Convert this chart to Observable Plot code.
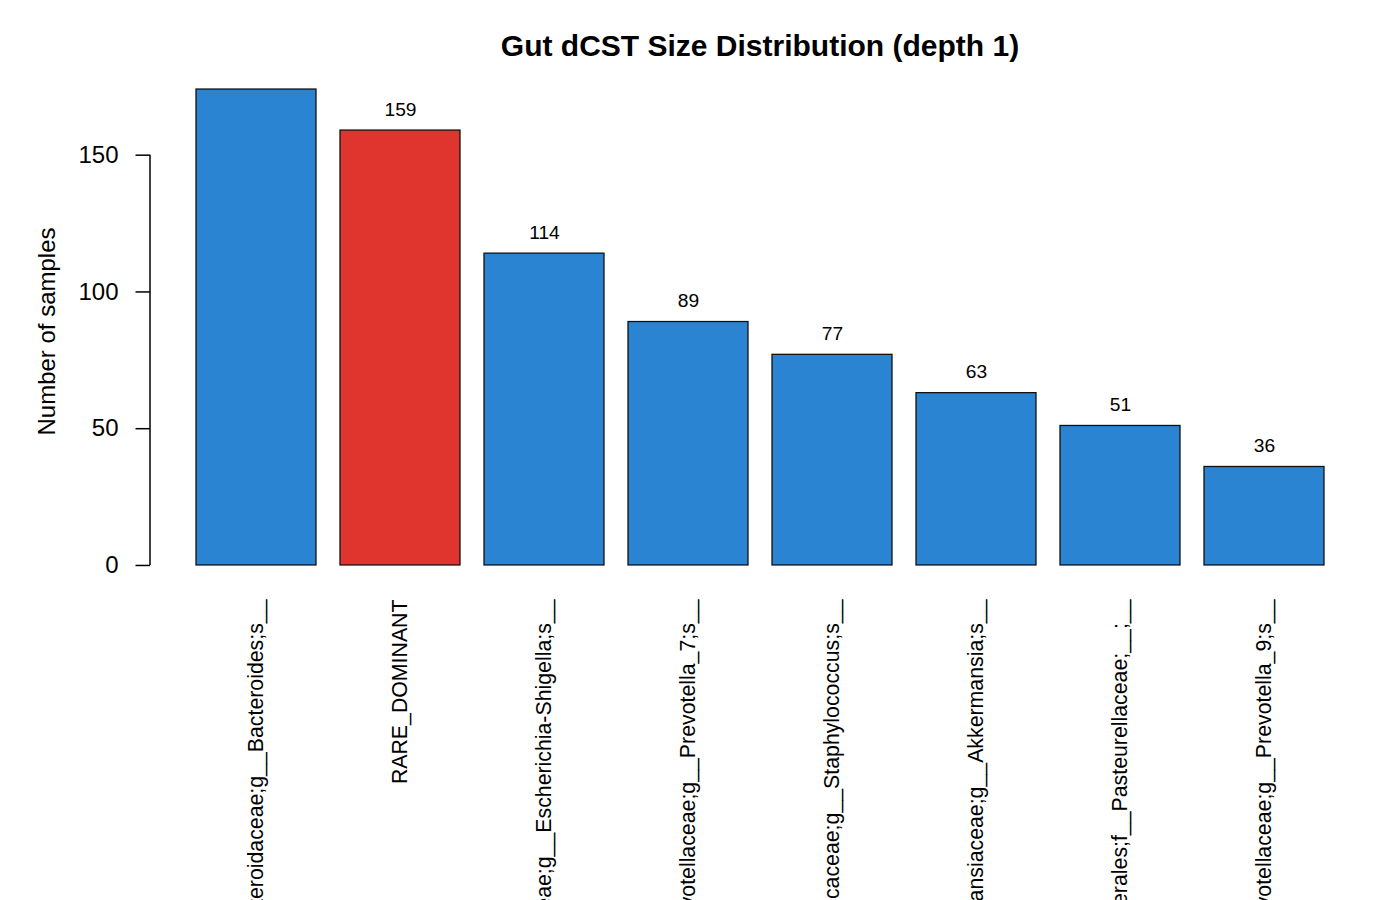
<!DOCTYPE html>
<html>
<head>
<meta charset="utf-8">
<script src="https://cdn.jsdelivr.net/npm/d3@7"></script>
<script src="https://cdn.jsdelivr.net/npm/@observablehq/plot@0.6"></script>
<style>
  html, body { margin: 0; padding: 0; background: white; overflow: hidden; }
  body { width: 1400px; height: 900px; font-family: "Liberation Sans", Arial, Helvetica, sans-serif; }
  #title {
    box-sizing: border-box; height: 70px; padding-top: 31px;
    width: 1220px; margin-left: 150px; text-align: center;
    font-size: 30px; line-height: 30px; font-weight: bold; color: #000;
  }
</style>
</head>
<body>
<div id="title">Gut dCST Size Distribution (depth 1)</div>
<div id="chart"></div>
<script>
// ---- data ----
const taxa = [
  "k__Bacteria;p__Bacteroidetes;c__Bacteroidia;o__Bacteroidales;f__Bacteroidaceae;g__Bacteroides;s__",
  "RARE_DOMINANT",
  "k__Bacteria;p__Proteobacteria;c__Gammaproteobacteria;o__Enterobacterales;f__Enterobacteriaceae;g__Escherichia-Shigella;s__",
  "k__Bacteria;p__Bacteroidetes;c__Bacteroidia;o__Bacteroidales;f__Prevotellaceae;g__Prevotella_7;s__",
  "k__Bacteria;p__Firmicutes;c__Bacilli;o__Staphylococcales;f__Staphylococcaceae;g__Staphylococcus;s__",
  "k__Bacteria;p__Verrucomicrobia;c__Verrucomicrobiae;o__Verrucomicrobiales;f__Akkermansiaceae;g__Akkermansia;s__",
  "k__Bacteria;p__Proteobacteria;c__Gammaproteobacteria;o__Enterobacterales;f__Pasteurellaceae;__;__",
  "k__Bacteria;p__Bacteroidetes;c__Bacteroidia;o__Bacteroidales;f__Prevotellaceae;g__Prevotella_9;s__"
];
const counts = [174, 159, 114, 89, 77, 63, 51, 36];
const yTicks = [0, 50, 100, 150];
const highlight = "RARE_DOMINANT";

const data = taxa.map((t, i) => ({taxon: t, count: counts[i]}));

// R-style axis extension (4%)
const maxCount = d3.max(counts);
const ext = 0.04 * maxCount;
const yMin = -ext, yMax = maxCount + ext;
const labelGap = 8; // data units above bar for value label (R clips when outside region)

const BLUE = "#2B84D2", RED = "#E0342F";
const marginLeft = 150;

const chart = Plot.plot({
  width: 1400,
  height: 830,
  marginTop: 0,
  marginBottom: 316,
  marginLeft: marginLeft,
  marginRight: 30,
  style: {fontFamily: "'Liberation Sans', Arial, Helvetica, sans-serif", fontSize: "24px", color: "#000", background: "white", overflow: "hidden"},
  x: {type: "band", domain: taxa, paddingInner: 0.2 / 1.2, paddingOuter: 0, insetLeft: 45.2, insetRight: 45.2, axis: null},
  y: {domain: [yMin, yMax], axis: null},
  marks: [
    Plot.barY(data, {
      x: "taxon", y1: 0, y2: "count",
      fill: d => d.taxon === highlight ? RED : BLUE,
      stroke: "#111", strokeWidth: 1.3
    }),
    Plot.text(data.filter(d => d.count + labelGap <= yMax), {
      x: "taxon", y: "count", text: d => String(d.count),
      dy: -21, fontSize: 19.2, fill: "#000"
    }),
    Plot.axisY({
      ticks: yTicks, tickFormat: d => String(d), tickSize: 14.5, tickPadding: 17.5,
      fontSize: 24, strokeWidth: 1.5, label: null, anchor: "left"
    }),
    Plot.text(["Number of samples"], {
      text: d => d, frameAnchor: "left", textAnchor: "middle", rotate: -90,
      dx: -102.7, dy: 4, fontSize: 24, fill: "#000"
    }),
    Plot.text(data, {
      x: "taxon", text: "taxon", frameAnchor: "bottom", rotate: -90,
      textAnchor: "end", dx: 6, dy: 15, fontSize: 21.3, fill: "#000"
    })
  ]
});

// R-style y axis line spanning first to last tick
const ys = chart.scale("y");
d3.select(chart).append("line")
  .attr("x1", marginLeft).attr("x2", marginLeft)
  .attr("y1", ys.apply(yTicks[0])).attr("y2", ys.apply(yTicks[yTicks.length - 1]))
  .attr("stroke", "#000").attr("stroke-width", 1.5);

document.getElementById("chart").appendChild(chart);
</script>
</body>
</html>
